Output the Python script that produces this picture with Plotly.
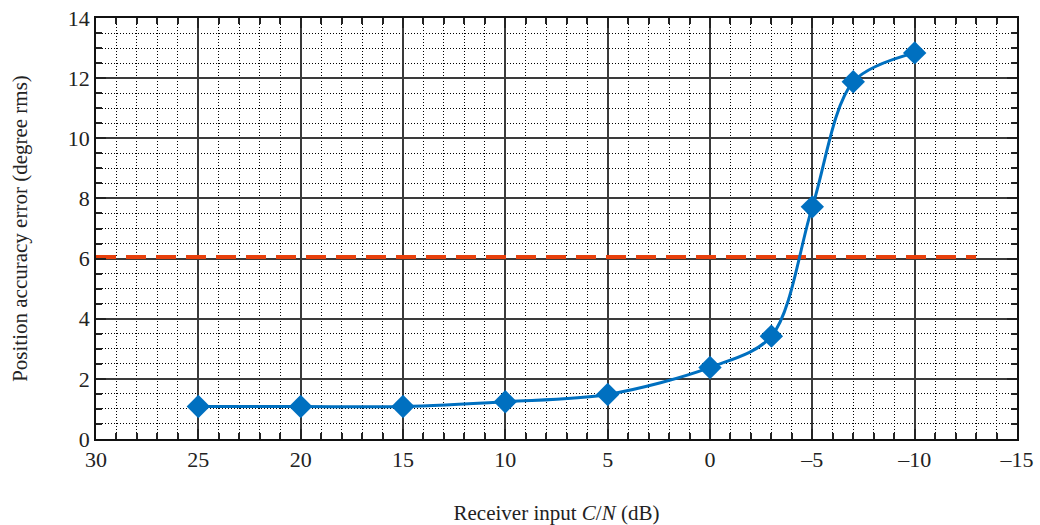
import plotly.graph_objects as go

cn_db = [25, 20, 15, 10, 5, 0, -3, -5, -7, -10]
pos_err = [1.08, 1.08, 1.08, 1.24, 1.48, 2.38, 3.42, 7.72, 11.88, 12.84]

threshold_x = [30, -13]
threshold_y = [6.05, 6.05]

x_tickvals = [30, 25, 20, 15, 10, 5, 0, -5, -10, -15]
x_ticktext = ["30", "25", "20", "15", "10", "5", "0", "–5", "–10", "–15"]
y_tickvals = [0, 2, 4, 6, 8, 10, 12, 14]

font = "Liberation Serif, Times New Roman, serif"

fig = go.Figure()
fig.add_trace(go.Scatter(
    x=threshold_x, y=threshold_y, mode="lines",
    line=dict(color="#E8400C", width=4, dash="20px,10px"),
    showlegend=False, hoverinfo="skip"))
fig.add_trace(go.Scatter(
    x=cn_db, y=pos_err, mode="lines+markers",
    line=dict(color="#0070C0", width=3, shape="spline", smoothing=0.9),
    marker=dict(symbol="diamond", size=18, color="#0070C0"),
    showlegend=False))

axis_common = dict(
    showline=True, linecolor="#111", linewidth=1.8, mirror="allticks",
    ticks="inside", ticklen=10, tickwidth=1.8, tickcolor="#222",
    showgrid=True, gridcolor="#3a3a3a", gridwidth=1.8, zeroline=False,
    tickfont=dict(family=font, size=22, color="#222"),
    automargin=False,
)

fig.update_xaxes(
    **axis_common, range=[30, -15], tickvals=x_tickvals, ticktext=x_ticktext,
    minor=dict(dtick=1, tick0=0, ticks="inside", ticklen=6, tickcolor="#222", tickwidth=1.5,
               showgrid=True, griddash="1px,2px", gridcolor="black", gridwidth=1),
    title=dict(text="Receiver input <i>C</i>/<i>N</i> (dB)",
               font=dict(family=font, size=21, color="#222"), standoff=34),
)
fig.update_yaxes(
    **axis_common, range=[0, 14], tickvals=y_tickvals,
    minor=dict(dtick=0.5, tick0=0, ticks="inside", ticklen=6, tickcolor="#222", tickwidth=1.5,
               showgrid=True, griddash="1px,2px", gridcolor="black", gridwidth=1),
    title=dict(text="Position accuracy error (degree rms)",
               font=dict(family=font, size=21, color="#222"), standoff=34),
)

fig.update_layout(
    width=1040, height=525,
    margin=dict(l=96, r=23, t=18, b=86),
    paper_bgcolor="white", plot_bgcolor="white",
)

fig.write_html("out.html", config={"displayModeBar": False},
               post_script="document.body.style.margin='0';document.body.style.overflow='hidden';")
